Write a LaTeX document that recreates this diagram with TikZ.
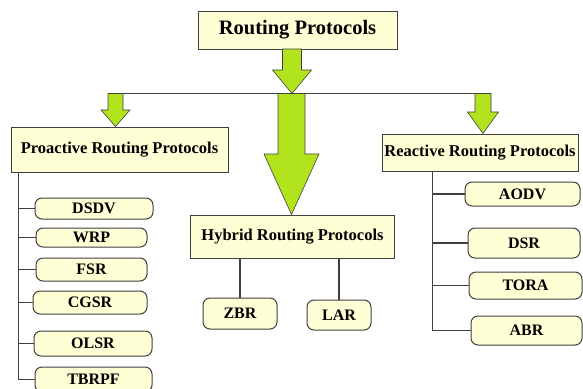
\documentclass[tikz,border=0pt]{standalone}
\usepackage{fontspec}
\setmainfont{Liberation Serif}
\definecolor{boxfill}{RGB}{255,255,214}
\definecolor{arrowgreen}{RGB}{178,228,30}
\definecolor{linegray}{RGB}{64,64,64}
\newcommand{\fatarrow}[6]{%
\filldraw[fat] (#1-#5,#2) -- (#1+#5,#2) -- (#1+#5,#3) -- (#1+#6,#3) -- (#1,#4) -- (#1-#6,#3) -- (#1-#5,#3) -- cycle;}

\begin{document}
\begin{tikzpicture}[x=1pt,y=-1pt,
  block/.style={rectangle,draw=linegray,fill=boxfill,line width=1pt,inner sep=0pt,font=\fontsize{16.5}{18}\selectfont\bfseries},
  leaf/.style={rectangle,rounded corners=7pt,draw=linegray,fill=boxfill,line width=1pt,inner sep=0pt,font=\fontsize{16}{18}\selectfont\bfseries},
  link/.style={draw=linegray,line width=1.3pt},
  fat/.style={fill=arrowgreen,draw=linegray,line width=0.6pt}]
\useasboundingbox (0,0) rectangle (583,388);
\node at (297.5, 30) (top) [block,minimum width=199pt,minimum height=38pt,font=\fontsize{20.5}{24}\selectfont\bfseries] {Routing Protocols};
\node at (119.5, 149.5) (pro) [block,minimum width=217pt,minimum height=45pt] {Proactive Routing Protocols};
\node at (480, 152.5) (rea) [block,minimum width=196pt,minimum height=37pt] {Reactive Routing Protocols};
\node at (292.5, 236.5) (hyb) [block,minimum width=204pt,minimum height=43pt] {Hybrid Routing Protocols};
\node at (94, 208.5) (dsdv) [leaf,minimum width=118pt,minimum height=21pt] {DSDV};
\node at (91.5, 237.5) (wrp) [leaf,minimum width=111pt,minimum height=19pt] {WRP};
\node at (91.5, 269.5) (fsr) [leaf,minimum width=111pt,minimum height=23pt] {FSR};
\node at (90, 302.5) (cgsr) [leaf,minimum width=114pt,minimum height=23pt] {CGSR};
\node at (93, 343.5) (olsr) [leaf,minimum width=118pt,minimum height=25pt] {OLSR};
\node at (93.5, 379.5) (tbrpf) [leaf,minimum width=117pt,minimum height=25pt] {TBRPF};
\node at (240, 313.5) (zbr) [leaf,minimum width=74pt,minimum height=31pt] {ZBR};
\node at (339, 315) (lar) [leaf,minimum width=64pt,minimum height=30pt] {LAR};
\node at (522.5, 194) (aodv) [leaf,minimum width=115pt,minimum height=24pt] {AODV};
\node at (524, 243) (dsr) [leaf,minimum width=112pt,minimum height=30pt] {DSR};
\node at (525.5, 285.5) (tora) [leaf,minimum width=113pt,minimum height=27pt] {TORA};
\node at (526.5, 330.5) (abr) [leaf,minimum width=111pt,minimum height=29pt] {ABR};
\coordinate (split west) at (108, 93.5);
\coordinate (split east) at (491, 93.5);
\coordinate (ptrunk) at ([xshift=8pt]pro.south west);
\coordinate (rtrunk) at ([xshift=51pt]rea.south west);
\draw [link] (split west) -- (split east);
\fatarrow{292}{49}{70}{93.5}{9.5}{19.5}
\fatarrow{115.5}{93.5}{110}{126.5}{7.5}{14.5}
\fatarrow{483}{93.5}{112}{133.5}{8}{15.5}
\fatarrow{291.5}{93.5}{154}{214.5}{13.5}{27.5}
\draw [link] (ptrunk) |- (dsdv.west);
\draw [link] (ptrunk) |- (wrp.west);
\draw [link] (ptrunk) |- (fsr.west);
\draw [link] (ptrunk) |- (cgsr.west);
\draw [link] (ptrunk) |- (olsr.west);
\draw [link] (ptrunk) |- (tbrpf.west);
\draw [link] (rtrunk) |- (aodv.west);
\draw [link] (rtrunk) |- (dsr.west);
\draw [link] (rtrunk) |- (tora.west);
\draw [link] (rtrunk) |- (abr.west);
\draw [link] (hyb.south -| zbr.north) -- (zbr.north);
\draw [link] (hyb.south -| lar.north) -- (lar.north);
\end{tikzpicture}
\end{document}
